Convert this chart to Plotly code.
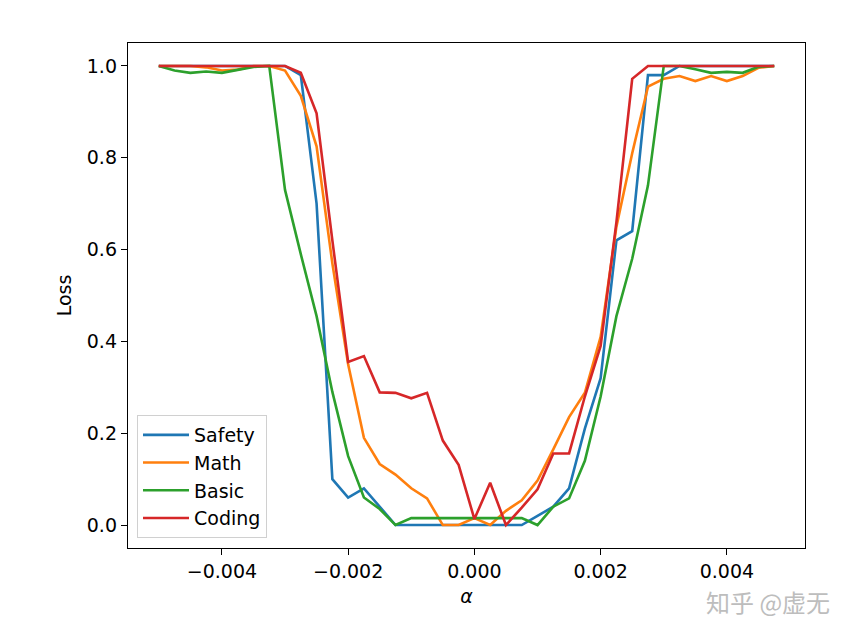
import plotly.graph_objects as go

alpha = [-0.005, -0.00475, -0.0045, -0.00425, -0.004, -0.00375, -0.0035, -0.00325,
         -0.003, -0.00275, -0.0025, -0.00225, -0.002, -0.00175, -0.0015, -0.00125,
         -0.001, -0.00075, -0.0005, -0.00025, 0.0, 0.00025, 0.0005, 0.00075,
         0.001, 0.00125, 0.0015, 0.00175, 0.002, 0.00225, 0.0025, 0.00275,
         0.003, 0.00325, 0.0035, 0.00375, 0.004, 0.00425, 0.0045, 0.00475]

safety = [1.0, 1.0, 1.0, 1.0, 1.0, 1.0, 1.0, 1.0,
          1.0, 0.98, 0.70, 0.10, 0.06, 0.08, 0.04, 0.0,
          0.0, 0.0, 0.0, 0.0, 0.0, 0.0, 0.0, 0.0,
          0.02, 0.04, 0.08, 0.21, 0.32, 0.62, 0.64, 0.98,
          0.98, 1.0, 1.0, 1.0, 1.0, 1.0, 1.0, 1.0]

math = [1.0, 1.0, 1.0, 0.997, 0.99, 0.992, 1.0, 1.0,
        0.99, 0.935, 0.825, 0.57, 0.35, 0.19, 0.133, 0.11,
        0.08, 0.058, 0.0, 0.0, 0.015, 0.0, 0.031, 0.054,
        0.097, 0.165, 0.235, 0.288, 0.41, 0.65, 0.81, 0.955,
        0.972, 0.978, 0.967, 0.978, 0.967, 0.978, 0.996, 1.0]

basic = [1.0, 0.99, 0.985, 0.988, 0.985, 0.992, 0.998, 1.0,
         0.73, 0.59, 0.455, 0.29, 0.15, 0.06, 0.035, 0.0,
         0.015, 0.015, 0.015, 0.015, 0.015, 0.015, 0.015, 0.015,
         0.0, 0.04, 0.058, 0.14, 0.28, 0.455, 0.58, 0.74,
         1.0, 1.0, 0.993, 0.985, 0.987, 0.985, 0.998, 1.0]

coding = [1.0, 1.0, 1.0, 1.0, 1.0, 1.0, 1.0, 1.0,
          1.0, 0.985, 0.897, 0.62, 0.355, 0.368, 0.289, 0.288,
          0.276, 0.288, 0.184, 0.131, 0.013, 0.092, 0.0, 0.038,
          0.078, 0.156, 0.156, 0.28, 0.39, 0.66, 0.972, 1.0,
          1.0, 1.0, 1.0, 1.0, 1.0, 1.0, 1.0, 1.0]

series_names = ["Safety", "Math", "Basic", "Coding"]
series_values = [safety, math, basic, coding]
colors = ["#1f77b4", "#ff7f0e", "#2ca02c", "#d62728"]

x_tickvals = [-0.004, -0.002, 0.0, 0.002, 0.004]
x_ticktext = ["\u22120.004", "\u22120.002", "0.000", "0.002", "0.004"]
y_tickvals = [0.0, 0.2, 0.4, 0.6, 0.8, 1.0]
y_ticktext = ["0.0", "0.2", "0.4", "0.6", "0.8", "1.0"]

FONT = "DejaVu Sans"

fig = go.Figure()
for name, vals, col in zip(series_names, series_values, colors):
    fig.add_trace(go.Scatter(
        x=alpha, y=vals, mode="lines", name=name, legendgroup=name,
        line=dict(color=col, width=2.6),
    ))

axis_common = dict(
    showline=True, mirror=True, linecolor="black", linewidth=1.4,
    ticks="outside", ticklen=6, tickwidth=1.4, tickcolor="black",
    showgrid=False, zeroline=False,
    tickfont=dict(family=FONT, size=19, color="black"),
)

fig.update_layout(
    width=848, height=622,
    margin=dict(l=120, r=51, t=35, b=82),
    paper_bgcolor="white", plot_bgcolor="white",
    font=dict(family=FONT, size=19, color="black"),
    xaxis=dict(range=[-0.0054875, 0.0052375], tickvals=x_tickvals, ticktext=x_ticktext,
               title=dict(text="<i>α</i>", font=dict(family=FONT, size=19), standoff=8),
               **axis_common),
    yaxis=dict(range=[-0.05, 1.05], tickvals=y_tickvals, ticktext=y_ticktext,
               title=dict(text="Loss", font=dict(family=FONT, size=19), standoff=10),
               **axis_common),
    showlegend=True,
    legend=dict(
        x=0.0133, y=0.0198, xanchor="left", yanchor="bottom",
        bgcolor="rgba(255,255,255,0.8)", bordercolor="#d0d0d0", borderwidth=1,
        font=dict(family=FONT, size=19, color="black"),
        tracegroupgap=0, itemwidth=46,
    ),
    annotations=[dict(
        text="知乎 @虚无", xref="paper", yref="paper", x=1.04, y=-0.105,
        xanchor="right", yanchor="middle", showarrow=False,
        font=dict(family="Noto Sans CJK SC", size=24, color="#bdbdbd"),
    )],
)

fig.write_html("out.html")
